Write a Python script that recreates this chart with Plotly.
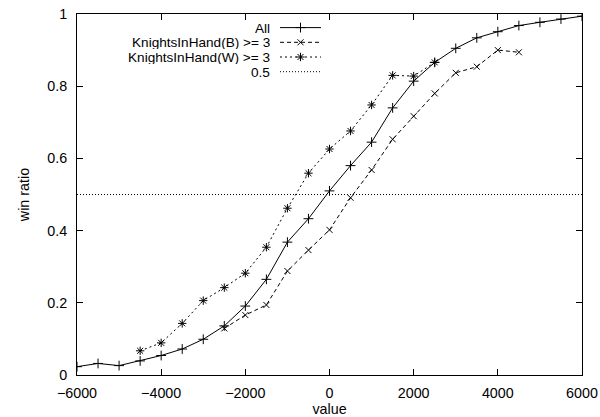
import plotly.graph_objects as go

# ---- data ----
x_all = [-6000, -5500, -5000, -4500, -4000, -3500, -3000, -2500, -2000, -1500, -1000, -500,
         0, 500, 1000, 1500, 2000, 2500, 3000, 3500, 4000, 4500, 5000, 5500, 6000]
y_all = [0.023, 0.032, 0.026, 0.039, 0.054, 0.072, 0.099, 0.136, 0.191, 0.265, 0.368, 0.433,
         0.510, 0.580, 0.645, 0.740, 0.814, 0.866, 0.905, 0.934, 0.951, 0.968, 0.977, 0.986, 0.994]

x_b = [-2500, -2000, -1500, -1000, -500, 0, 500, 1000, 1500, 2000, 2500, 3000, 3500, 4000, 4500]
y_b = [0.129, 0.166, 0.194, 0.288, 0.346, 0.402, 0.491, 0.568, 0.653, 0.717, 0.780, 0.837, 0.854, 0.900, 0.894]

x_w = [-4500, -4000, -3500, -3000, -2500, -2000, -1500, -1000, -500, 0, 500, 1000, 1500, 2000, 2500]
y_w = [0.067, 0.089, 0.143, 0.206, 0.242, 0.282, 0.354, 0.462, 0.559, 0.626, 0.676, 0.748, 0.830, 0.828, 0.866]

ref_level = 0.5

series_names = ["All", "KnightsInHand(B) >= 3", "KnightsInHand(W) >= 3", "0.5"]

x_ticks = [-6000, -4000, -2000, 0, 2000, 4000, 6000]
y_ticks = [0, 0.2, 0.4, 0.6, 0.8, 1]
y_tick_labels = ["0", "0.2", "0.4", "0.6", "0.8", "1"]

# ---- styles ----
FONT = "Liberation Sans, Arial, Helvetica, sans-serif"
FS = 14.3
FS_KEY = 13.6
BLACK = "#000000"
styles = [
    dict(dash="solid", symbol="cross-thin-open", size=7),
    dict(dash="4px,3px", symbol="x-thin-open", size=6),
    dict(dash="2px,3px", symbol="asterisk-open", size=7),
    dict(dash="1px,2px", symbol=None, size=0),
]

fig = go.Figure()

data = [(x_all, y_all), (x_b, y_b), (x_w, y_w)]
for (xs, ys), st, name in zip(data, styles[:3], series_names[:3]):
    fig.add_trace(go.Scatter(
        x=xs, y=ys, mode="lines+markers", name=name, showlegend=False,
        line=dict(color=BLACK, width=1, dash=st["dash"]),
        marker=dict(symbol=st["symbol"], size=st["size"], color=BLACK,
                    line=dict(color=BLACK, width=1)),
    ))

# 0.5 reference line
fig.add_trace(go.Scatter(
    x=[x_ticks[0], x_ticks[-1]], y=[ref_level, ref_level], mode="lines",
    name=series_names[3], showlegend=False,
    line=dict(color=BLACK, width=1, dash=styles[3]["dash"]),
))

# ---- gnuplot-style key (labels right-aligned, samples to the right) ----
# overlay axes in pixel units of the plot area
PX_L, PX_R, PX_T, PX_B = 77, 582, 14, 375
key_text_x = 271
key_x0, key_x1 = 280, 321
key_rows = [27.6, 42.3, 57.0, 71.7]
for name, st, ky in zip(series_names, styles, key_rows):
    fig.add_trace(go.Scatter(
        x=[key_x0, key_x1], y=[ky, ky], mode="lines", xaxis="x2", yaxis="y2",
        showlegend=False, hoverinfo="skip",
        line=dict(color=BLACK, width=1, dash=st["dash"]),
    ))
    if st["symbol"]:
        fig.add_trace(go.Scatter(
            x=[(key_x0 + key_x1) / 2], y=[ky], mode="markers", xaxis="x2", yaxis="y2",
            showlegend=False, hoverinfo="skip",
            marker=dict(symbol=st["symbol"], size=st["size"], color=BLACK,
                        line=dict(color=BLACK, width=1)),
        ))
    fig.add_annotation(x=key_text_x, y=ky, xref="x2", yref="y2", text=name,
                       showarrow=False, xanchor="right", yanchor="middle",
                       borderpad=0, height=14,
                       font=dict(family=FONT, size=FS_KEY, color=BLACK))

axis_common = dict(showgrid=False, zeroline=False, showline=True, linecolor=BLACK,
                   linewidth=1, mirror="ticks", ticks="inside", ticklen=6,
                   tickcolor=BLACK, tickwidth=1, automargin=False,
                   tickfont=dict(family=FONT, size=FS, color=BLACK))

fig.update_layout(
    width=600, height=417,
    margin=dict(l=PX_L, r=600 - PX_R, t=PX_T, b=417 - PX_B),
    paper_bgcolor="white", plot_bgcolor="white",
    font=dict(family=FONT, size=FS, color=BLACK),
    xaxis=dict(range=[-6000, 6000], tickvals=x_ticks, ticklabelstandoff=5,
               title=dict(text="value", standoff=3, font=dict(family=FONT, size=FS)),
               **axis_common),
    yaxis=dict(range=[0, 1], tickvals=y_ticks, ticktext=y_tick_labels, ticklabelstandoff=6,
               title=dict(text="win ratio", standoff=14, font=dict(family=FONT, size=FS)),
               **axis_common),
    xaxis2=dict(overlaying="x", range=[PX_L, PX_R], visible=False, fixedrange=True),
    yaxis2=dict(overlaying="y", range=[PX_B, PX_T], visible=False, fixedrange=True),
)

fig.write_html("out.html")
